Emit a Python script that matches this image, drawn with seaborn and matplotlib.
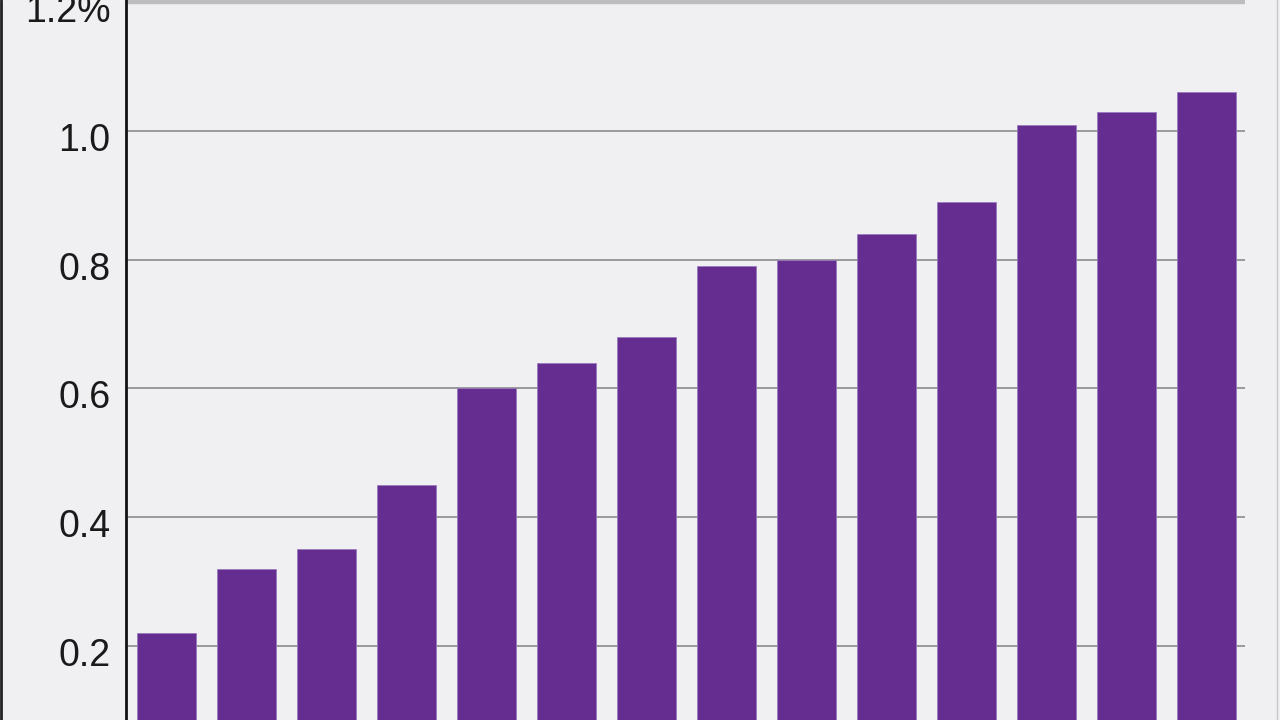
import numpy as np
import matplotlib.pyplot as plt
import matplotlib.transforms as mtransforms
import seaborn as sns
import pandas as pd
from matplotlib.lines import Line2D

# bar values (percent)
categories = [f'c{i}' for i in range(1, 15)]
values = [0.22, 0.32, 0.35, 0.45, 0.60, 0.64, 0.68, 0.79, 0.80, 0.84, 0.89, 1.01, 1.03, 1.06]
tick_values = [0.2, 0.4, 0.6, 0.8, 1.0, 1.2]
tick_labels = ['0.2', '0.4', '0.6', '0.8', '1.0', '1.2%']

bg = '#f0f0f2'
purple = '#662d91'

sns.set_style('white')
plt.rcParams['font.family'] = ['Liberation Sans', 'DejaVu Sans']

df = pd.DataFrame({'cat': categories, 'val': values})

fig = plt.figure(figsize=(12.8, 7.2), dpi=100, facecolor=bg)
ax = fig.add_axes([126 / 1280, 0, (1245 - 126) / 1280, 1])
ax.set_facecolor(bg)

sns.barplot(data=df, x='cat', y='val', color=purple, saturation=1, width=0.74,
            edgecolor='#9a7cc0', linewidth=0.6, ax=ax, zorder=3)

ax.set_xlim(-0.506, 13.48)
ax.set_ylim(0.085, 1.2035)
ax.set_yticks(tick_values)
ax.set_yticklabels(tick_labels, fontsize=27, color='#1a1a1a')
ax.tick_params(axis='y', length=0, pad=11)
ax.set_xticks([])
ax.set_xlabel('')
ax.set_ylabel('')

# labels sit a little below their gridlines in the original
shift = mtransforms.ScaledTranslation(0, -6 / 100, fig.dpi_scale_trans)
for lbl in ax.get_yticklabels():
    lbl.set_transform(lbl.get_transform() + shift)

for v in tick_values[:-1]:
    ax.axhline(v, color='#8a8a8a', lw=1.2, zorder=1)
ax.axhline(1.2, color='#bdbdbd', lw=3.2, zorder=1)

for s in ['top', 'right', 'bottom']:
    ax.spines[s].set_visible(False)
ax.spines['left'].set_color('#111111')
ax.spines['left'].set_linewidth(2.0)
ax.spines['left'].set_zorder(5)

# thin frame lines at the picture edges
fig.add_artist(Line2D([0.001, 0.001], [0, 1], color='#222222', lw=2.0, transform=fig.transFigure))
fig.add_artist(Line2D([1277 / 1280, 1277 / 1280], [0, 1], color='#c8c8c8', lw=1.0, transform=fig.transFigure))

fig.savefig('out.png', dpi=100, facecolor=bg)
